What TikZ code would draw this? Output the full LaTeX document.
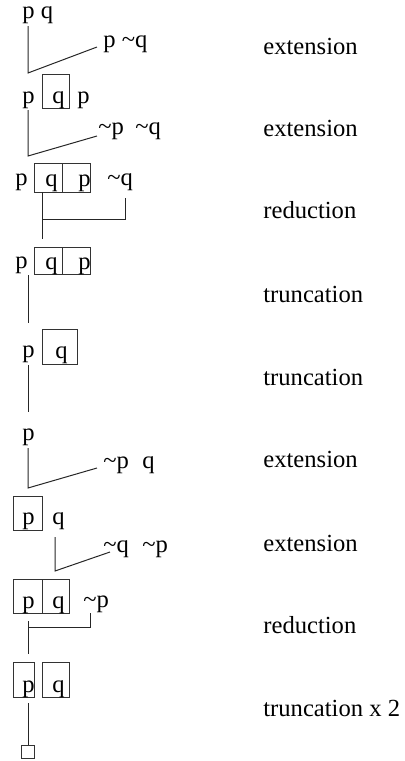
\documentclass[tikz,border=0pt]{standalone}
\usepackage{fontspec}
\setmainfont{Liberation Serif}
\newcommand{\tl}{\textasciitilde}
\begin{document}
\begin{tikzpicture}[x=0.5pt,y=-0.5pt,
  txt/.style={anchor=base west,inner sep=0pt,font=\fontsize{12.3}{14}\selectfont},
  lbl/.style={txt},
  ln/.style={draw=black!85,line width=0.5pt},
  bx/.style={draw=black!80,line width=0.5pt}]
\useasboundingbox (0,0) rectangle (405,761);
% Row 1
\node[txt] (r1a) at (22,18) {p q};
\node[txt] (r1b) at (103,47) {p \tl q};
\coordinate (a1) at (28,26); \coordinate (a2) at (28,73); \coordinate (a3) at (97,47);
\draw[ln] (a1) -- (a2) -- (a3);
% Row 2
\draw[bx] (42,74) rectangle (69,108);
\node[txt] (r2a) at (22,103) {p};
\node[txt] (r2b) at (52,103) {q};
\node[txt] (r2c) at (77,103) {p};
\node[txt] (r2d) at (98,134) {\tl p};
\node[txt] (r2e) at (135,134) {\tl q};
\coordinate (b1) at (28,110); \coordinate (b2) at (28,156); \coordinate (b3) at (97,136);
\draw[ln] (b1) -- (b2) -- (b3);
% Row 3
\draw[bx] (34,163) rectangle (90,192);
\draw[bx] (62,163) -- (62,192);
\node[txt] (r3a) at (15,185) {p};
\node[txt] (r3b) at (45,186) {q};
\node[txt] (r3c) at (78,186) {p};
\node[txt] (r3d) at (107,185) {\tl q};
\coordinate (c1) at (42,192); \coordinate (c2) at (42,239);
\coordinate (c3) at (42,219); \coordinate (c4) at (125,219); \coordinate (c5) at (125,198);
\draw[ln] (c1) -- (c2);
\draw[ln] (c3) -- (c4) -- (c5);
% Row 4
\draw[bx] (34,247) rectangle (90,274);
\draw[bx] (62,247) -- (62,274);
\node[txt] (r4a) at (15,268) {p};
\node[txt] (r4b) at (45,269) {q};
\node[txt] (r4c) at (78,269) {p};
\coordinate (d1) at (28,275); \coordinate (d2) at (28,323);
\draw[ln] (d1) -- (d2);
% Row 5
\draw[bx] (42,329) rectangle (77,364);
\node[txt] (r5a) at (22,357) {p};
\node[txt] (r5b) at (55,358) {q};
\coordinate (e1) at (28,365); \coordinate (e2) at (28,412);
\draw[ln] (e1) -- (e2);
% Row 6
\node[txt] (r6a) at (22,440) {p};
\node[txt] (r6b) at (103,468) {\tl p};
\node[txt] (r6c) at (142,468) {q};
\coordinate (f1) at (28,448); \coordinate (f2) at (28,488); \coordinate (f3) at (97,468);
\draw[ln] (f1) -- (f2) -- (f3);
% Row 7
\draw[bx] (13,496) rectangle (42,530);
\node[txt] (r7a) at (22,524) {p};
\node[txt] (r7b) at (52,524) {q};
\node[txt] (r7c) at (103,552) {\tl q};
\node[txt] (r7d) at (142,552) {\tl p};
\coordinate (g1) at (55,537); \coordinate (g2) at (55,571); \coordinate (g3) at (110,552);
\draw[ln] (g1) -- (g2) -- (g3);
% Row 8
\draw[bx] (13,579) rectangle (69,613);
\draw[bx] (42,579) -- (42,613);
\node[txt] (r8a) at (22,608) {p};
\node[txt] (r8b) at (52,608) {q};
\node[txt] (r8c) at (83,607) {\tl p};
\coordinate (h1) at (28,621); \coordinate (h2) at (28,654);
\coordinate (h3) at (28,627); \coordinate (h4) at (90,627); \coordinate (h5) at (90,613);
\draw[ln] (h1) -- (h2);
\draw[ln] (h3) -- (h4) -- (h5);
% Row 9
\draw[bx] (13,662) rectangle (34,697);
\draw[bx] (42,662) rectangle (69,697);
\node[txt] (r9a) at (22,692) {p};
\node[txt] (r9b) at (52,692) {q};
\coordinate (i1) at (28,703); \coordinate (i2) at (28,745);
\draw[ln] (i1) -- (i2);
\draw[bx] (21,745) rectangle (34,758);
% Labels
\node[lbl] (l1) at (263,54) {extension};
\node[lbl] (l2) at (263,136) {extension};
\node[lbl] (l3) at (263,218) {reduction};
\node[lbl] (l4) at (263,302) {truncation};
\node[lbl] (l5) at (263,385) {truncation};
\node[lbl] (l6) at (263,467) {extension};
\node[lbl] (l7) at (263,551) {extension};
\node[lbl] (l8) at (263,633) {reduction};
\node[lbl] (l9) at (263,716) {truncation x 2};
\end{tikzpicture}
\end{document}
